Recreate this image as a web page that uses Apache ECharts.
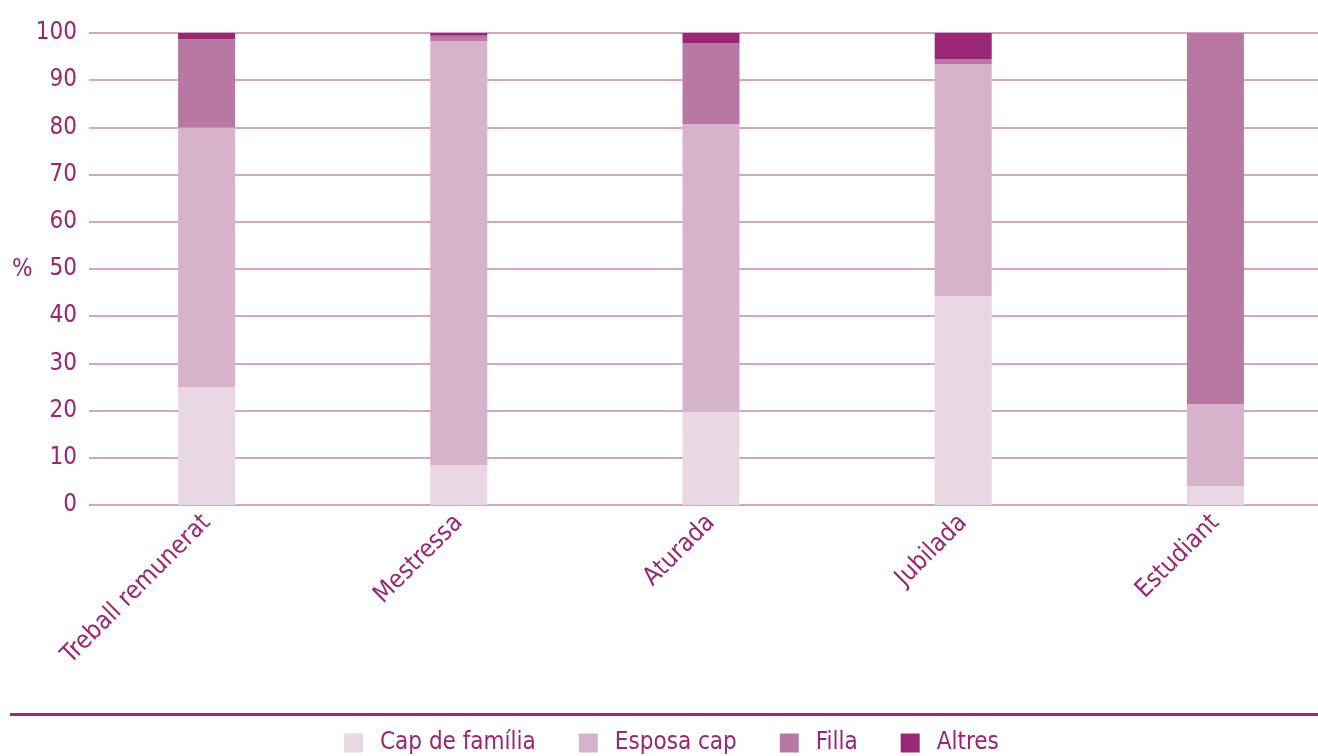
<!DOCTYPE html>
<html>
<head>
<meta charset="utf-8">
<script src="https://cdn.jsdelivr.net/npm/echarts@6/dist/echarts.min.js"></script>
<style>html,body{margin:0;padding:0;background:#fff}#c{width:1318px;height:756px}</style>
</head>
<body>
<div id="c"></div>
<script>
const categories = ['Treball remunerat', 'Mestressa', 'Aturada', 'Jubilada', 'Estudiant'];
const capFamilia = [25.0, 8.5, 19.7, 44.3, 4.0];
const esposaCap  = [55.0, 89.8, 61.0, 49.1, 17.4];
const filla      = [18.7, 1.1, 17.2, 1.1, 78.6];
const altres     = [1.3, 0.6, 2.1, 5.5, 0.0];
const seriesNames = ['Cap de família', 'Esposa cap', 'Filla', 'Altres'];
const yTicks = { min: 0, max: 100, interval: 10 };

const FONT = '"Liberation Sans Narrow", "DejaVu Sans Condensed", sans-serif';
const TXT = '#9B2474';
const GRID = '#D4A6C6';
const colors = ['#E9D7E3', '#D7B3CB', '#B878A3', '#9C2676'];

const chart = echarts.init(document.getElementById('c'));
const seriesData = [capFamilia, esposaCap, filla, altres];
chart.setOption({
  animation: false,
  color: colors,
  textStyle: { fontFamily: FONT },
  grid: [
    { left: 89, right: 0, top: 33, height: 472, outerBoundsMode: 'none', containLabel: false },
    { left: 80.5, right: -23.5, top: 33, height: 472, outerBoundsMode: 'none', containLabel: false }
  ],
  legend: {
    top: 726, left: 339,
    itemWidth: 19, itemHeight: 19, itemGap: 43,
    icon: 'rect',
    textStyle: { color: TXT, fontSize: 24, fontFamily: FONT, padding: [0, 0, 0, 12] },
    data: seriesNames
  },
  xAxis: [
    { type: 'category', gridIndex: 0, data: categories, show: false },
    { type: 'category', gridIndex: 1, data: categories,
      axisLine: { show: false }, axisTick: { show: false },
      axisLabel: { rotate: 45, color: TXT, fontSize: 25, fontFamily: FONT, margin: 14, interval: 0 } }
  ],
  yAxis: [
    { type: 'value', gridIndex: 0, min: yTicks.min, max: yTicks.max, interval: yTicks.interval,
      axisLine: { show: false }, axisTick: { show: false },
      axisLabel: { color: TXT, fontSize: 24, fontFamily: FONT, margin: 12 },
      splitLine: { lineStyle: { color: GRID, width: 2 } } },
    { type: 'value', gridIndex: 1, min: yTicks.min, max: yTicks.max, interval: yTicks.interval, show: false,
      splitLine: { show: false } }
  ],
  graphic: [
    { type: 'text', left: 12, top: 258, style: { text: '%', fill: TXT, font: '24px ' + FONT } },
    { type: 'line', shape: { x1: 10, y1: 714.5, x2: 1318, y2: 714.5 }, style: { stroke: '#9E2A78', lineWidth: 3 } }
  ],
  series: seriesNames.map((n, i) => ({
    name: n, type: 'bar', stack: 'total', xAxisIndex: 1, yAxisIndex: 1,
    barWidth: 57, data: seriesData[i], itemStyle: { color: colors[i] }
  }))
});
</script>
</body>
</html>
